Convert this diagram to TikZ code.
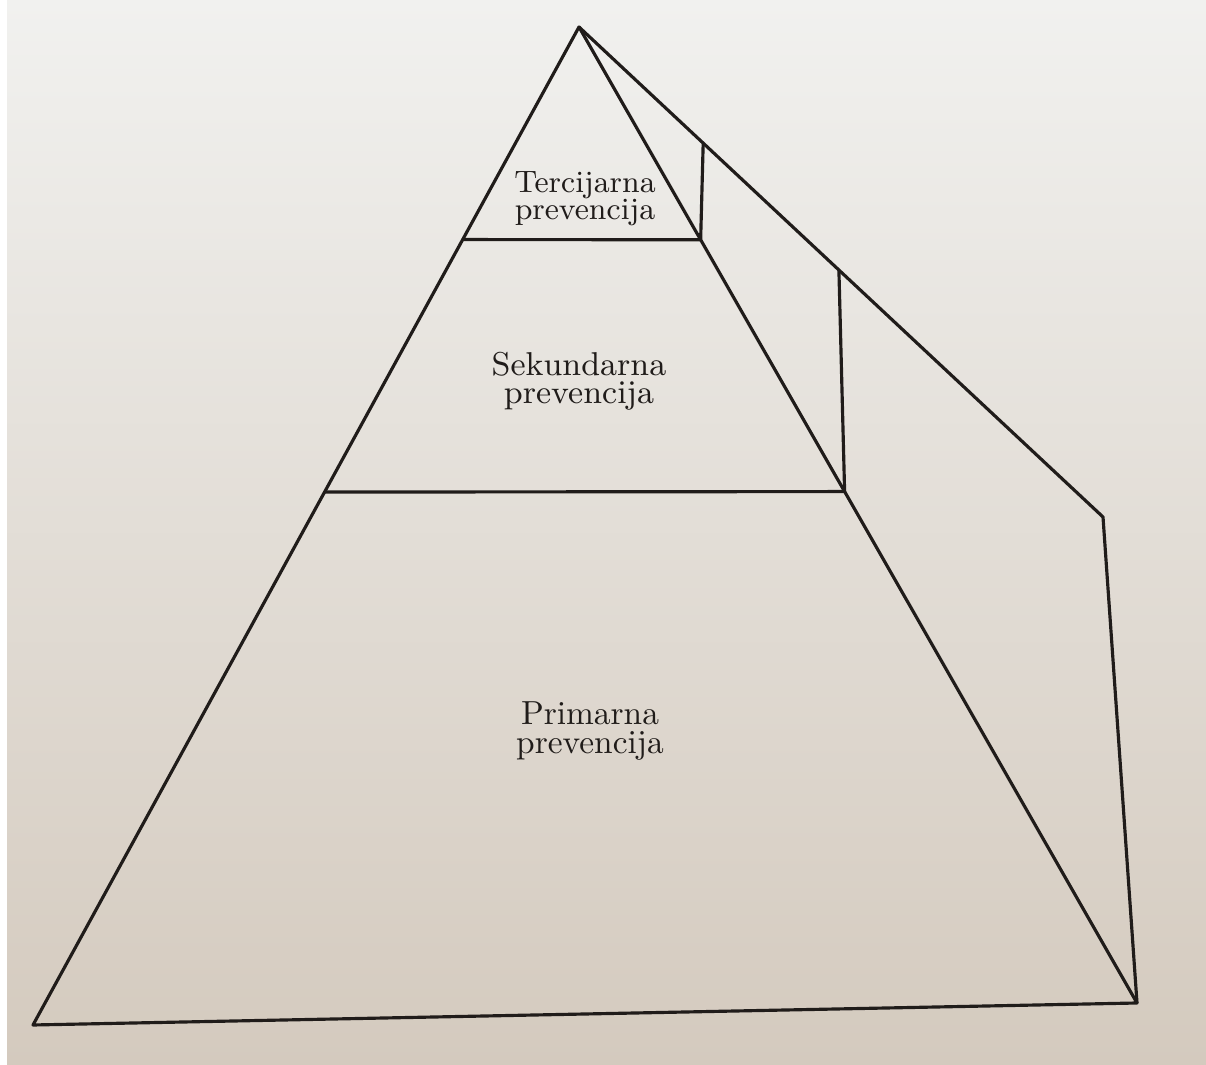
\documentclass[tikz,border=0pt]{standalone}
\usepackage{tikz}
\usetikzlibrary{calc}
\definecolor{paperhi}{RGB}{241,241,239}
\definecolor{paperlo}{RGB}{212,202,190}
\definecolor{ink}{RGB}{32,28,26}
\tikzset{
  edge/.style={line width=0.9pt,ink,line join=round},
  divider/.style={line width=0.9pt,ink},
  lbl/.style={align=center,text=ink,inner sep=0pt},
}

\begin{document}
\begin{tikzpicture}
    \useasboundingbox (0,0) rectangle (12.06,10.65);
    \shade[top color=paperhi,bottom color=paperlo] (0,0) rectangle (12.06,10.65);
    \fill[white] (0,0) rectangle (0.07,10.65);
    % outline of the pyramid
    \coordinate (apex) at (5.79,10.38);
    \coordinate (bl) at (0.33,0.40);
    \coordinate (br) at (11.37,0.62);
    \coordinate (back) at (11.03,5.48);
    \draw[edge] (apex) -- (bl) -- (br) -- cycle;
    \draw[edge] (apex) -- (back) -- (br);
    % levels
    \coordinate (t1) at ($(apex)!0.213!(bl)$);
    \coordinate (t2) at ($(apex)!0.218!(br)$);
    \coordinate (t3) at ($(apex)!0.237!(back)$);
    \draw[divider] (t1) -- (t2) -- (t3);
    \coordinate (s1) at ($(apex)!0.466!(bl)$);
    \coordinate (s2) at ($(apex)!0.476!(br)$);
    \coordinate (s3) at ($(apex)!0.496!(back)$);
    \draw[divider] (s1) -- (s2) -- (s3);
    \node[lbl,font={\fontsize{8.8}{7.6}\selectfont\lineskip=0pt\lineskiplimit=0pt}] (terc) at (5.85,8.66) {Tercijarna\\prevencija};
    \node[lbl,font={\fontsize{9.4}{8}\selectfont\lineskip=0pt\lineskiplimit=0pt}] (sek) at (5.79,6.84) {Sekundarna\\prevencija};
    \node[lbl,font={\fontsize{9.5}{8}\selectfont\lineskip=0pt\lineskiplimit=0pt}] (prim) at (5.90,3.34) {Primarna\\prevencija};
\end{tikzpicture}
\end{document}
